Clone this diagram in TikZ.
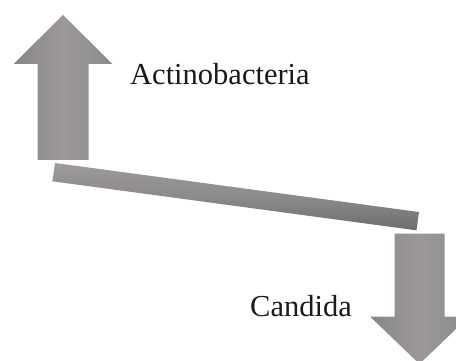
\documentclass[tikz,border=0pt]{standalone}
\usepackage{fontspec}
\setmainfont{Liberation Serif}
\definecolor{ink}{HTML}{1A1A1A}
\definecolor{steel}{HTML}{8C8A8A}
\definecolor{steellight}{HTML}{9E9A9A}
\definecolor{steeldark}{HTML}{6E6C6C}

\begin{document}
\begin{tikzpicture}[x=1pt,y=1pt,
  taxon/.style={font=\fontsize{30.5}{36}\selectfont,text=ink,inner sep=0pt,anchor=base west},
  arrowfill/.style={left color=steel!85!steeldark,right color=steel,middle color=steellight!90!steel},
  beam/.style={top color=steellight,bottom color=steeldark,middle color=steel},
]
\useasboundingbox (0,0) rectangle (456,-361);
\begin{scope}
\clip (0,0) rectangle (456,-361);
\shade[arrowfill] (37.5,-160) -- (37.5,-64) -- (13.5,-64) -- (63,-15) -- (112.5,-64) -- (88.5,-64) -- (88.5,-160) -- cycle;
\shade[arrowfill] (394.5,-233.5) -- (394.5,-316.5) -- (370,-316.5) -- (419.5,-364) -- (469,-316.5) -- (444.5,-316.5) -- (444.5,-233.5) -- cycle;
\shade[beam,rotate around={-7.67:(55,-163)}] (55,-163) rectangle (422.3,-181.5);
\end{scope}

\node[taxon] (actino) at (130,-85) {Actinobacteria};
\node[taxon] (candida) at (250,-316.5) {Candida};
\end{tikzpicture}
\end{document}
